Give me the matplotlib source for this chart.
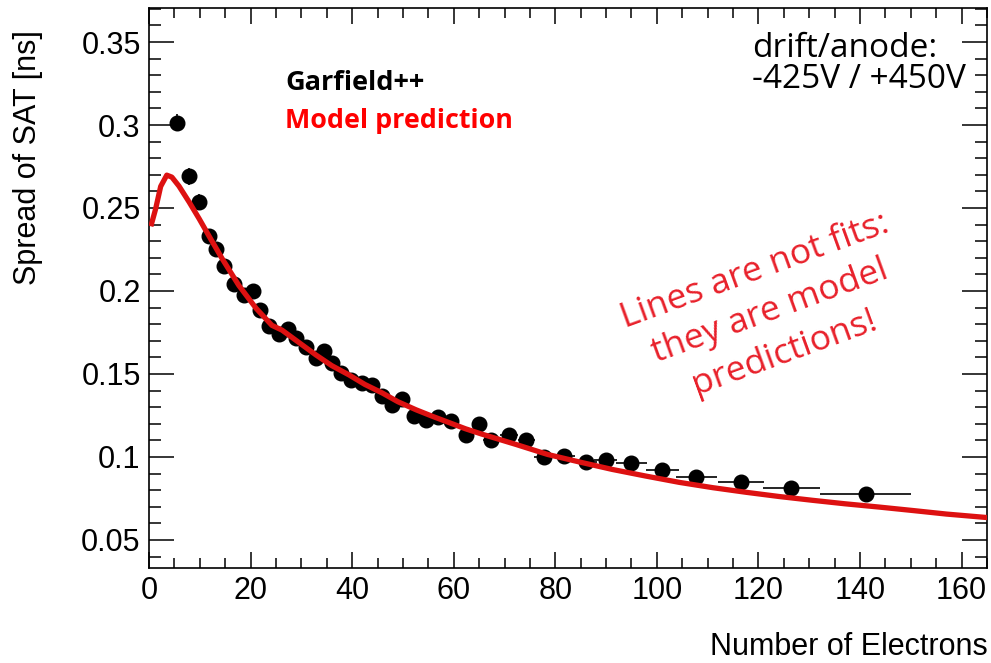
import matplotlib
matplotlib.use("Agg")
import matplotlib.pyplot as plt
from matplotlib.ticker import MultipleLocator

# Garfield++ simulation: spread of SAT vs number of electrons
n_el = [5.5, 7.9, 9.85, 11.8, 13.2, 14.8, 16.7, 18.7, 20.5, 21.8, 23.6, 25.6,
        27.4, 29.0, 30.9, 32.9, 34.5, 36.1, 37.8, 39.8, 42.0, 43.9, 45.9, 47.9,
        49.9, 52.2, 54.6, 56.9, 59.5, 62.5, 65.0, 67.4, 70.9, 74.3, 77.8, 81.8,
        86.1, 89.9, 95.0, 101.1, 107.8, 116.6, 126.5, 141.1]
sat_spread = [0.3015, 0.269, 0.2536, 0.233, 0.225, 0.2153, 0.2045, 0.1973,
              0.1997, 0.1885, 0.1787, 0.174, 0.177, 0.1716, 0.1662, 0.1596,
              0.1638, 0.1566, 0.1506, 0.1464, 0.1446, 0.1434, 0.1368, 0.1314,
              0.135, 0.1249, 0.1225, 0.1243, 0.1219, 0.1135, 0.120, 0.1105,
              0.1135, 0.1105, 0.0997, 0.1003, 0.0967, 0.0979, 0.0961, 0.0919,
              0.0877, 0.0847, 0.0811, 0.0775]
n_el_err = [1.0, 1.0, 1.0, 1.0, 1.0, 1.0, 1.0, 1.0, 1.0, 1.0, 1.0, 1.0,
            1.0, 1.0, 1.0, 1.0, 1.0, 1.0, 1.0, 1.0, 1.0, 1.0, 1.0, 1.0,
            1.0, 1.2, 1.2, 1.2, 1.3, 1.5, 1.5, 1.6, 1.7, 1.7, 2.0, 2.1,
            2.1, 2.2, 3.0, 3.2, 4.0, 4.5, 5.7, 9.0]
sat_err = [0.005, 0.005, 0.005, 0.004, 0.004, 0.004, 0.004, 0.004, 0.004,
           0.004, 0.004, 0.004, 0.004, 0.004, 0.004, 0.004, 0.004, 0.004,
           0.004, 0.004, 0.004, 0.004, 0.004, 0.004, 0.004, 0.004, 0.004,
           0.004, 0.004, 0.004, 0.004, 0.004, 0.004, 0.004, 0.004, 0.004,
           0.004, 0.004, 0.004, 0.004, 0.004, 0.004, 0.004, 0.004]

# model prediction curve
model_x = [0.5, 1.3, 2.3, 3.5, 4.5, 5.9, 7.9, 9.9, 11.8, 14.4, 17.7, 21.1,
           24.2, 26.2, 29.5, 32.9, 36.0, 39.4, 42.5, 45.9, 49.0, 52.6, 55.8,
           59.1, 62.3, 65.5, 72.3, 78.5, 85.0, 91.2, 97.8, 104.4, 111.0,
           117.6, 124.0, 130.6, 137.0, 143.8, 150.5, 157.0, 165.0]
model_y = [0.2405, 0.2494, 0.263, 0.2698, 0.2686, 0.2632, 0.2536, 0.2434,
           0.2332, 0.2195, 0.2033, 0.1895, 0.1793, 0.1764, 0.169, 0.1614,
           0.155, 0.1494, 0.1437, 0.1386, 0.1333, 0.1284, 0.1245, 0.1207,
           0.117, 0.1138, 0.1075, 0.1015, 0.0968, 0.0925, 0.0885, 0.0847,
           0.0815, 0.0787, 0.0762, 0.0739, 0.0718, 0.0698, 0.0677, 0.0656,
           0.0635]

plt.rcParams['font.family'] = ['Liberation Sans', 'DejaVu Sans']

fig = plt.figure(figsize=(9.91, 6.63), dpi=100)
ax = fig.add_axes([149 / 991, 1 - 568 / 663, (987 - 149) / 991, (568 - 8) / 663])

ax.errorbar(n_el, sat_spread, xerr=n_el_err, yerr=sat_err, fmt='o', color='black',
            markersize=10.5, elinewidth=1.2, capsize=0, zorder=3)
ax.plot(model_x, model_y, color='#dd1111', linewidth=3.8, zorder=4)

ax.set_xlim(0, 165)
ax.set_ylim(0.0331, 0.3705)
ax.xaxis.set_major_locator(MultipleLocator(20))
ax.xaxis.set_minor_locator(MultipleLocator(5))
ax.yaxis.set_major_locator(MultipleLocator(0.05))
ax.yaxis.set_minor_locator(MultipleLocator(0.01))
ax.yaxis.set_major_formatter(plt.FuncFormatter(lambda v, p: f"{v:g}"))

ax.tick_params(axis='both', which='both', direction='in', top=True, right=True,
               width=1.1, labelsize=22, colors='black')
ax.tick_params(axis='x', which='major', length=11.5, pad=6)
ax.tick_params(axis='x', which='minor', length=7)
ax.tick_params(axis='y', which='major', length=18, pad=6)
ax.tick_params(axis='y', which='minor', length=8.6)
for s in ax.spines.values():
    s.set_linewidth(1.2)

fig.text(28 / 991, 1 - 30 / 663, "Spread of SAT [ns]", rotation=90,
         ha='center', va='top', fontsize=22)
fig.text(988 / 991, 1 - 655 / 663, "Number of Electrons", ha='right',
         va='baseline', fontsize=22)

# annotations
fig.text(285 / 991, 1 - 90 / 663, "Garfield++", family='Open Sans',
         weight='bold', fontsize=19.5, color='black', va='baseline')
fig.text(285 / 991, 1 - 128 / 663, "Model prediction", family='Open Sans',
         weight='bold', fontsize=19.4, color='#ff0000', va='baseline')
fig.text(752 / 991, 1 - 57 / 663, "drift/anode:", family='Open Sans',
         fontsize=24, va='baseline')
fig.text(752 / 991, 1 - 88 / 663, "-425V / +450V", family='Open Sans',
         fontsize=24, va='baseline')
fig.text(770 / 991, 1 - 312 / 663,
         "Lines are not fits:\nthey are model\npredictions!",
         family='Open Sans', fontsize=25.5, color='#e8202a', rotation=20,
         rotation_mode='anchor', ha='center', va='center',
         multialignment='center', linespacing=1.35)

fig.savefig("out.png", dpi=100)
